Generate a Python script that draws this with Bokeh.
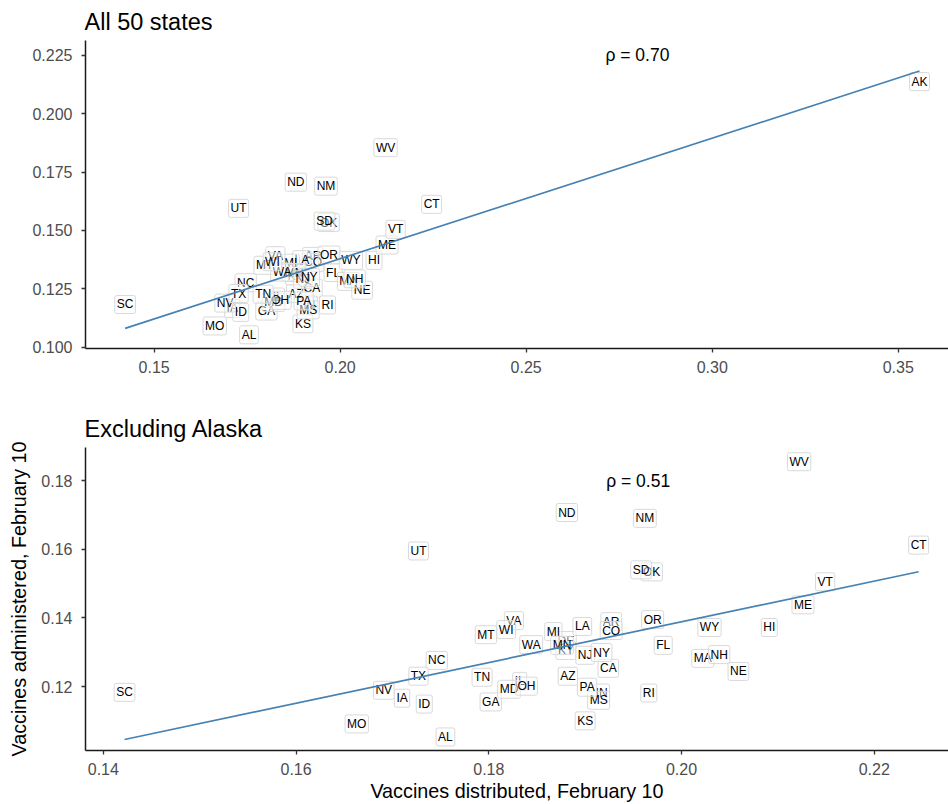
import numpy as np
from bokeh.plotting import figure
from bokeh.layouts import column
from bokeh.models import ColumnDataSource, FixedTicker, PrintfTickFormatter, Range1d
from bokeh.core.properties import value
from bokeh.embed import file_html
from bokeh.resources import INLINE

# ---- data (share of population) ----
states = ["AK", "AL", "AR", "AZ", "CA", "CO", "CT", "DE", "FL", "GA",
          "HI", "IA", "ID", "IL", "IN", "KS", "KY", "LA", "MA", "MD",
          "ME", "MI", "MN", "MO", "MS", "MT", "NC", "ND", "NE", "NH",
          "NJ", "NM", "NV", "NY", "OH", "OK", "OR", "PA", "RI", "SC",
          "SD", "TN", "TX", "UT", "VA", "VT", "WA", "WI", "WV", "WY"]
distributed = [0.3557, 0.1755, 0.1927, 0.1882, 0.1924, 0.1927, 0.2246, 0.1880, 0.1981, 0.1802,
               0.2091, 0.1710, 0.1733, 0.1832, 0.1917, 0.1900, 0.1880, 0.1897, 0.2022, 0.1821,
               0.2126, 0.1867, 0.1876, 0.1663, 0.1914, 0.1797, 0.1746, 0.1881, 0.2059, 0.2039,
               0.1900, 0.1962, 0.1691, 0.1917, 0.1839, 0.1969, 0.1970, 0.1902, 0.1966, 0.1422,
               0.1958, 0.1793, 0.1727, 0.1727, 0.1826, 0.2149, 0.1844, 0.1818, 0.2122, 0.2029]
administered = [0.2138, 0.1053, 0.1389, 0.1230, 0.1253, 0.1363, 0.1612, 0.1334, 0.1320, 0.1155,
                0.1372, 0.1166, 0.1149, 0.1215, 0.1181, 0.1100, 0.1305, 0.1375, 0.1282, 0.1192,
                0.1438, 0.1360, 0.1320, 0.1091, 0.1160, 0.1351, 0.1276, 0.1707, 0.1244, 0.1293,
                0.1291, 0.1690, 0.1189, 0.1299, 0.1201, 0.1534, 0.1395, 0.1198, 0.1181, 0.1183,
                0.1540, 0.1227, 0.1230, 0.1595, 0.1392, 0.1505, 0.1322, 0.1366, 0.1855, 0.1372]

top_title = "All 50 states"
bottom_title = "Excluding Alaska"
x_label = "Vaccines distributed, February 10"
y_label = "Vaccines administered, February 10"
rho_top = "\u03c1 = 0.70"
rho_bottom = "\u03c1 = 0.51"
rho_top_pos = (0.2799, 0.225)
rho_bottom_pos = (0.1955, 0.18)

top_xticks = [0.15, 0.20, 0.25, 0.30, 0.35]
top_yticks = [0.100, 0.125, 0.150, 0.175, 0.200, 0.225]
bot_xticks = [0.14, 0.16, 0.18, 0.20, 0.22]
bot_yticks = [0.12, 0.14, 0.16, 0.18]

FONT = "Liberation Sans"


def panel(title, xs, ys, labs, xr, yr, xt, yt, xfmt, yfmt, rho, rho_pos,
          height, border_top, border_bottom, xlab=None, ylab=None):
    p = figure(width=948, height=height, output_backend="svg", toolbar_location=None,
               x_range=Range1d(*xr), y_range=Range1d(*yr),
               min_border_left=85, min_border_right=0,
               min_border_top=border_top, min_border_bottom=border_bottom)
    p.title.text = title
    p.title.text_font = FONT
    p.title.text_font_size = "23.5px"
    p.title.text_font_style = "normal"
    p.title.text_color = "black"
    p.title.standoff = 12
    p.title.offset = -1
    p.xgrid.visible = False
    p.ygrid.visible = False
    p.outline_line_color = None
    p.background_fill_color = "white"
    p.border_fill_color = "white"

    for ax, ticks, fmt in ((p.xaxis[0], xt, xfmt), (p.yaxis[0], yt, yfmt)):
        ax.ticker = FixedTicker(ticks=ticks)
        ax.formatter = PrintfTickFormatter(format=fmt)
        ax.axis_line_color = "#1a1a1a"
        ax.axis_line_width = 1.5
        ax.major_tick_line_color = "#333333"
        ax.major_tick_line_width = 1.3
        ax.major_tick_out = 4
        ax.major_tick_in = 0
        ax.minor_tick_out = 0
        ax.minor_tick_in = 0
        ax.major_label_text_font = FONT
        ax.major_label_text_font_size = "16px"
        ax.major_label_text_color = "#4D4D4D"
        ax.major_label_standoff = 8
        ax.axis_label_text_font = FONT
        ax.axis_label_text_font_size = "19.8px"
        ax.axis_label_text_font_style = "normal"
        ax.axis_label_text_color = "black"
        ax.axis_label_standoff = 2
    p.yaxis[0].major_label_standoff = 9
    if xlab:
        p.xaxis.axis_label = xlab
    if ylab:
        p.yaxis.axis_label = ylab
        p.yaxis.axis_label_standoff = 8

    src = ColumnDataSource(dict(x=xs, y=ys, t=labs))
    p.text(x="x", y="y", text="t", source=src,
           text_font=value(FONT), text_font_size="12px", text_color="black",
           text_align="center", text_baseline="middle",
           background_fill_color="white", background_fill_alpha=0.45,
           border_line_color="#d9d9d9", border_line_width=1,
           padding=2, border_radius=2)

    xa = np.array(xs)
    ya = np.array(ys)
    slope, icpt = np.polyfit(xa, ya, 1)
    lx = np.array([xa.min(), xa.max()])
    p.line(lx, slope * lx + icpt, line_color="#4682B4", line_width=1.7)

    p.text(x=[rho_pos[0]], y=[rho_pos[1]], text=[rho],
           text_font=value(FONT), text_font_size="17.5px", text_color="black",
           text_align="center", text_baseline="middle")
    return p


H1 = 395
top = panel(top_title, distributed, administered, states,
            (0.13156, 0.3635), (0.09944, 0.23141),
            top_xticks, top_yticks, "%.2f", "%.3f",
            rho_top, rho_top_pos, H1, 40, H1 - 348)

idx = [i for i, s in enumerate(states) if s != "AK"]
bottom = panel(bottom_title, [distributed[i] for i in idx], [administered[i] for i in idx],
               [states[i] for i in idx],
               (0.13815, 0.2277), (0.10136, 0.18964),
               bot_xticks, bot_yticks, "%.2f", "%.2f",
               rho_bottom, rho_bottom_pos, 804 - H1, 447 - H1, 52, x_label, y_label)

layout = column(top, bottom, spacing=0)
open("out.html", "w").write(file_html(layout, INLINE))
